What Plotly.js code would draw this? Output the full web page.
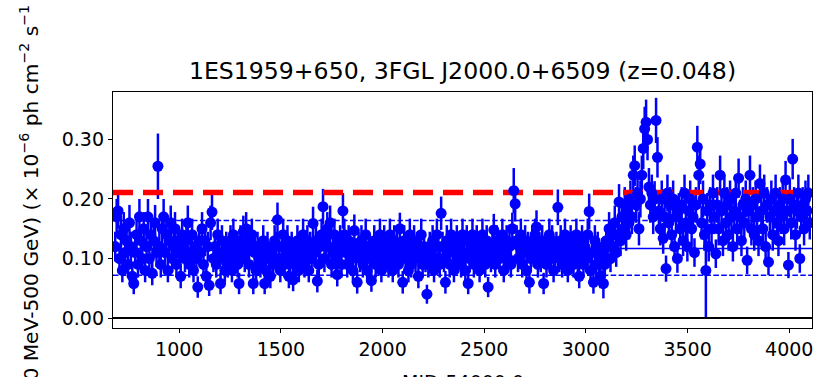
<!DOCTYPE html>
<html>
<head>
<meta charset="utf-8">
<script src="https://cdn.plot.ly/plotly-3.0.1.min.js"></script>
<style>html,body{margin:0;padding:0;background:#fff;overflow:hidden}#chart{width:827px;height:377px}</style>
</head>
<body>
<div id="chart"></div>
<script>
// Weekly-binned Fermi-LAT light curve (MJD-54000), first bin centre and bin width
const firstBinMJD = 685;
const binDays = 7;

// Flux (x 1e-6 ph cm^-2 s^-1), one value per weekly bin
const flux = [
  0.12,0.17,0.18,0.10,0.14,0.08,0.15,0.11,0.13,0.09,
  0.16,0.12,0.07,0.058,0.11,0.14,0.09,0.17,0.13,0.10,
  0.15,0.08,0.12,0.17,0.10,0.14,0.075,0.13,0.16,0.11,
  0.255,0.12,0.09,0.15,0.17,0.11,0.14,0.08,0.13,0.16,
  0.10,0.12,0.15,0.09,0.13,0.11,0.07,0.14,0.12,0.10,
  0.13,0.16,0.09,0.11,0.14,0.08,0.12,0.10,0.052,0.13,
  0.11,0.15,0.09,0.13,0.07,0.12,0.055,0.16,0.178,0.10,
  0.12,0.09,0.14,0.11,0.058,0.13,0.10,0.08,0.12,0.09,
  0.11,0.13,0.08,0.14,0.10,0.12,0.09,0.058,0.13,0.11,
  0.145,0.10,0.15,0.12,0.09,0.13,0.14,0.058,0.11,0.08,
  0.12,0.10,0.09,0.11,0.13,0.058,0.08,0.12,0.10,0.07,
  0.11,0.09,0.13,0.12,0.165,0.10,0.08,0.12,0.14,0.09,
  0.11,0.13,0.07,0.10,0.12,0.064,0.09,0.11,0.13,0.08,
  0.12,0.10,0.14,0.09,0.11,0.13,0.08,0.12,0.10,0.159,
  0.11,0.13,0.062,0.09,0.12,0.14,0.187,0.10,0.13,0.15,
  0.12,0.16,0.09,0.11,0.14,0.10,0.073,0.12,0.13,0.09,
  0.18,0.14,0.11,0.09,0.13,0.12,0.10,0.08,0.147,0.11,
  0.06,0.12,0.10,0.13,0.09,0.11,0.14,0.08,0.12,0.10,
  0.063,0.11,0.13,0.09,0.12,0.10,0.14,0.08,0.11,0.13,
  0.10,0.12,0.09,0.14,0.11,0.08,0.13,0.10,0.12,0.09,
  0.15,0.11,0.06,0.13,0.10,0.12,0.08,0.14,0.09,0.11,
  0.13,0.10,0.12,0.07,0.11,0.14,0.09,0.12,0.10,0.04,
  0.09,0.12,0.11,0.13,0.08,0.10,0.14,0.12,0.09,0.176,
  0.12,0.10,0.06,0.13,0.11,0.09,0.14,0.12,0.08,0.11,
  0.13,0.10,0.12,0.09,0.14,0.11,0.08,0.13,0.058,0.10,
  0.12,0.14,0.09,0.11,0.13,0.10,0.08,0.12,0.14,0.11,
  0.09,0.13,0.052,0.11,0.10,0.12,0.148,0.09,0.13,0.11,
  0.10,0.12,0.14,0.08,0.11,0.13,0.10,0.12,0.09,0.15,
  0.214,0.192,0.13,0.10,0.12,0.14,0.09,0.11,0.13,0.08,
  0.12,0.06,0.10,0.13,0.11,0.14,0.153,0.09,0.12,0.10,
  0.13,0.058,0.11,0.09,0.12,0.14,0.10,0.13,0.08,0.11,
  0.12,0.186,0.10,0.13,0.09,0.11,0.14,0.12,0.08,0.10,
  0.13,0.11,0.09,0.12,0.14,0.10,0.07,0.11,0.13,0.09,
  0.12,0.10,0.14,0.179,0.08,0.11,0.06,0.13,0.09,0.12,
  0.10,0.07,0.11,0.058,0.09,0.13,0.12,0.15,0.10,0.14,
  0.12,0.16,0.11,0.14,0.195,0.13,0.17,0.15,0.19,0.14,
  0.18,0.16,0.20,0.17,0.24,0.256,0.19,0.21,0.15,0.20,
  0.24,0.285,0.318,0.329,0.30,0.22,0.19,0.21,0.17,0.20,
  0.332,0.27,0.18,0.15,0.20,0.134,0.17,0.083,0.21,0.16,
  0.19,0.14,0.20,0.12,0.17,0.10,0.18,0.15,0.19,0.13,
  0.21,0.16,0.12,0.18,0.20,0.15,0.17,0.11,0.19,0.287,
  0.24,0.259,0.16,0.20,0.14,0.08,0.18,0.12,0.19,0.15,
  0.21,0.17,0.108,0.19,0.15,0.24,0.18,0.13,0.21,0.16,
  0.19,0.14,0.20,0.17,0.12,0.18,0.21,0.15,0.235,0.17,
  0.13,0.19,0.16,0.20,0.097,0.18,0.24,0.15,0.19,0.14,
  0.20,0.17,0.13,0.226,0.18,0.15,0.21,0.12,0.19,0.094,
  0.17,0.20,0.14,0.18,0.21,0.16,0.13,0.19,0.17,0.20,
  0.15,0.232,0.18,0.089,0.20,0.16,0.267,0.19,0.14,0.18,
  0.21,0.10,0.17,0.19,0.15,0.20,0.18,0.21,0.16
];

// 1-sigma flux errors, same bins
const fluxErr = [
  0.025,0.03,0.03,0.022,0.028,0.02,0.028,0.024,0.026,0.022,
  0.03,0.025,0.02,0.018,0.024,0.028,0.022,0.03,0.026,0.023,
  0.028,0.02,0.025,0.03,0.023,0.027,0.02,0.026,0.03,0.024,
  0.055,0.025,0.022,0.028,0.03,0.024,0.027,0.02,0.026,0.029,
  0.023,0.025,0.028,0.021,0.026,0.024,0.02,0.027,0.025,0.023,
  0.026,0.029,0.022,0.024,0.027,0.02,0.025,0.023,0.018,0.026,
  0.024,0.028,0.022,0.026,0.02,0.025,0.018,0.029,0.03,0.023,
  0.025,0.022,0.027,0.024,0.018,0.026,0.023,0.02,0.025,0.022,
  0.024,0.026,0.02,0.027,0.023,0.025,0.022,0.018,0.026,0.024,
  0.027,0.023,0.028,0.025,0.022,0.026,0.027,0.018,0.024,0.02,
  0.025,0.023,0.022,0.024,0.026,0.018,0.02,0.025,0.023,0.02,
  0.024,0.022,0.026,0.025,0.029,0.023,0.02,0.025,0.027,0.022,
  0.024,0.026,0.02,0.023,0.025,0.019,0.022,0.024,0.026,0.02,
  0.025,0.023,0.027,0.022,0.024,0.026,0.02,0.025,0.023,0.028,
  0.024,0.026,0.019,0.022,0.025,0.027,0.03,0.023,0.026,0.028,
  0.025,0.029,0.022,0.024,0.027,0.023,0.02,0.025,0.026,0.022,
  0.03,0.027,0.024,0.022,0.026,0.025,0.023,0.02,0.027,0.024,
  0.019,0.025,0.023,0.026,0.022,0.024,0.027,0.02,0.025,0.023,
  0.019,0.024,0.026,0.022,0.025,0.023,0.027,0.02,0.024,0.026,
  0.023,0.025,0.022,0.027,0.024,0.02,0.026,0.023,0.025,0.022,
  0.027,0.024,0.019,0.026,0.023,0.025,0.02,0.027,0.022,0.024,
  0.026,0.023,0.025,0.02,0.024,0.027,0.022,0.025,0.023,0.016,
  0.022,0.025,0.024,0.026,0.02,0.023,0.027,0.025,0.022,0.028,
  0.025,0.023,0.019,0.026,0.024,0.022,0.027,0.025,0.02,0.024,
  0.026,0.023,0.025,0.022,0.027,0.024,0.02,0.026,0.018,0.023,
  0.025,0.027,0.022,0.024,0.026,0.023,0.02,0.025,0.027,0.024,
  0.022,0.026,0.017,0.024,0.023,0.025,0.027,0.022,0.026,0.024,
  0.023,0.025,0.027,0.02,0.024,0.026,0.023,0.025,0.022,0.027,
  0.038,0.03,0.026,0.023,0.025,0.027,0.022,0.024,0.026,0.02,
  0.025,0.019,0.023,0.026,0.024,0.027,0.028,0.022,0.025,0.023,
  0.026,0.018,0.024,0.022,0.025,0.027,0.023,0.026,0.02,0.024,
  0.025,0.03,0.023,0.026,0.022,0.024,0.027,0.025,0.02,0.023,
  0.026,0.024,0.022,0.025,0.027,0.023,0.02,0.024,0.026,0.022,
  0.025,0.023,0.027,0.03,0.02,0.024,0.019,0.026,0.022,0.025,
  0.023,0.02,0.024,0.025,0.022,0.026,0.025,0.028,0.023,0.027,
  0.025,0.029,0.024,0.027,0.03,0.026,0.029,0.028,0.03,0.027,
  0.03,0.028,0.031,0.029,0.033,0.034,0.03,0.031,0.028,0.031,
  0.033,0.035,0.037,0.038,0.035,0.032,0.03,0.031,0.029,0.03,
  0.038,0.034,0.03,0.028,0.031,0.026,0.029,0.022,0.031,0.028,
  0.03,0.027,0.031,0.025,0.029,0.024,0.03,0.028,0.03,0.026,
  0.031,0.028,0.025,0.03,0.031,0.028,0.029,0.024,0.03,0.036,
  0.033,0.034,0.028,0.031,0.027,0.08,0.03,0.025,0.03,0.028,
  0.031,0.029,0.024,0.03,0.028,0.033,0.03,0.026,0.031,0.028,
  0.03,0.027,0.031,0.029,0.025,0.03,0.031,0.028,0.033,0.029,
  0.026,0.03,0.028,0.031,0.023,0.03,0.033,0.028,0.03,0.027,
  0.031,0.029,0.026,0.032,0.03,0.028,0.031,0.025,0.03,0.022,
  0.029,0.031,0.027,0.03,0.031,0.028,0.026,0.03,0.029,0.031,
  0.028,0.032,0.03,0.022,0.031,0.028,0.034,0.03,0.027,0.03,
  0.031,0.024,0.029,0.03,0.028,0.031,0.03,0.031,0.028
];

// Reference levels
const meanFlux = 0.117;
const lowerSigma = 0.072;
const upperSigma = 0.164;
const thresholdFlux = 0.211;
const zeroFlux = 0.0;

const titleText = "1ES1959+650, 3FGL J2000.0+6509 (z=0.048)";
const xLabel = "MJD-54000.0";
const yLabel = "Flux (100 MeV-500 GeV) (× 10<sup>−6</sup> ph cm<sup>−2</sup> s<sup>−1</sup>";
const xTicks = [1000, 1500, 2000, 2500, 3000, 3500, 4000];
const yTicks = [0.0, 0.1, 0.2, 0.3];

const xRange = [674, 4112];
const yRange = [-0.0168, 0.3798];

const mjd = flux.map((_, i) => firstBinMJD + binDays * i);

function hline(y, color, width, dash) {
  return {x: xRange, y: [y, y], mode: 'lines', type: 'scatter', hoverinfo: 'skip',
          line: {color: color, width: width, dash: dash}, showlegend: false};
}

const traces = [
  hline(meanFlux, '#0000ff', 1.5, 'solid'),
  hline(lowerSigma, '#0000ff', 1.5, '5.5px,2.4px'),
  hline(upperSigma, '#0000ff', 1.5, '5.5px,2.4px'),
  {x: mjd, y: flux, type: 'scatter', mode: 'markers', showlegend: false,
   marker: {size: 0.1, color: 'rgba(0,0,255,0)'},
   error_y: {type: 'data', array: fluxErr, visible: true, color: '#0000ff', thickness: 2.5, width: 0}},
  hline(zeroFlux, '#000000', 2.2, 'solid'),
  hline(thresholdFlux, '#ff0000', 5.5, '20px,10px'),
  {x: mjd, y: flux, type: 'scatter', mode: 'markers', showlegend: false,
   marker: {size: 11, color: '#0000ff', line: {width: 0}}}
];

const layout = {
  width: 827, height: 377,
  margin: {l: 113, r: 15, t: 91.5, b: 48.7, pad: 0},
  paper_bgcolor: '#ffffff', plot_bgcolor: '#ffffff',
  showlegend: false,
  font: {family: 'DejaVu Sans', size: 19, color: '#000000'},
  title: {text: titleText, xref: 'paper', x: 0.5, xanchor: 'center',
          yref: 'container', y: 1 - 71 / 377, yanchor: 'middle',
          font: {family: 'DejaVu Sans', size: 23.6, color: '#000000'}},
  xaxis: {range: xRange, tickvals: xTicks, ticks: 'outside', ticklen: 4, tickwidth: 1,
          tickcolor: '#000', showgrid: false, zeroline: false, showline: true, mirror: true,
          linecolor: '#000', linewidth: 1.2, tickfont: {family: 'DejaVu Sans', size: 19}},
  yaxis: {range: yRange, tickvals: yTicks, tickformat: '.2f', ticks: 'outside', ticklen: 4, tickwidth: 1,
          tickcolor: '#000', showgrid: false, zeroline: false, showline: true, mirror: true,
          linecolor: '#000', linewidth: 1.2, tickfont: {family: 'DejaVu Sans', size: 19}},
  annotations: [
    {text: yLabel, textangle: -90, showarrow: false, xref: 'paper', yref: 'paper',
     x: (29.5 - 113) / 699, xanchor: 'center', y: (328.3 - 234) / 236.8, yanchor: 'middle',
     font: {family: 'DejaVu Sans', size: 20.2, color: '#000'}},
    {text: xLabel, showarrow: false, xref: 'paper', yref: 'paper',
     x: 0.5, xanchor: 'center', y: (328.3 - 369) / 236.8, yanchor: 'top',
     font: {family: 'DejaVu Sans', size: 19, color: '#000'}}
  ]
};

Plotly.newPlot('chart', traces, layout, {displayModeBar: false, staticPlot: true});
</script>
</body>
</html>
